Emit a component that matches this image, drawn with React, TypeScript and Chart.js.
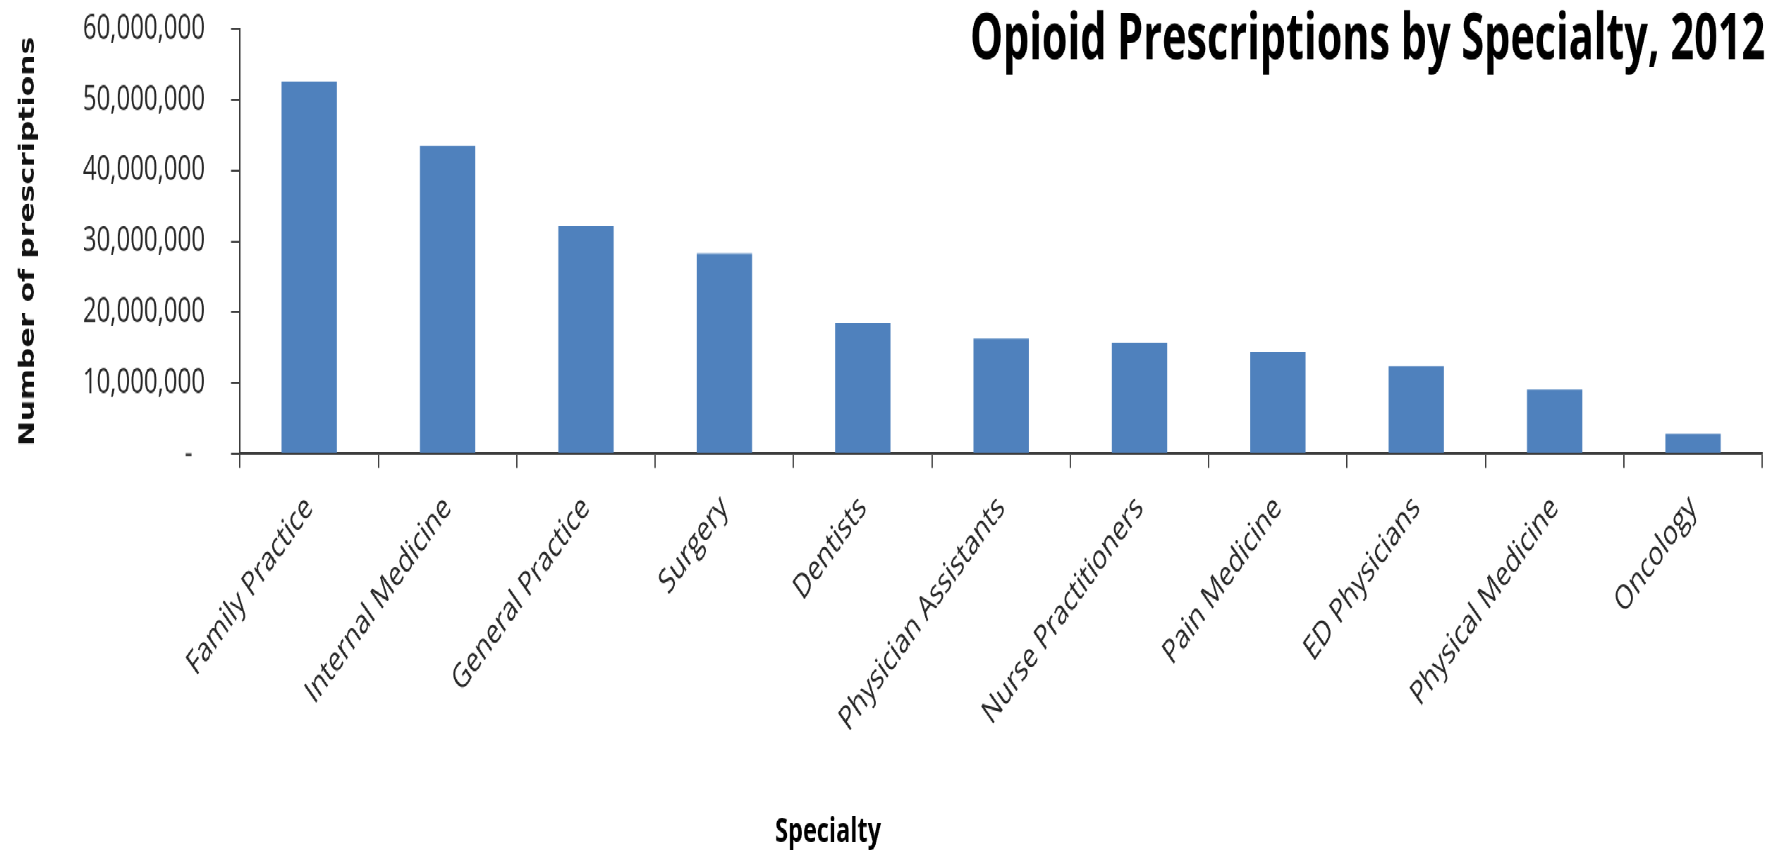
import { useEffect, useRef } from "react";
import { Chart, registerables } from "chart.js";

Chart.register(...registerables);

// Opioid prescriptions written in 2012, by prescriber specialty
const specialties = [
  "Family Practice",
  "Internal Medicine",
  "General Practice",
  "Surgery",
  "Dentists",
  "Physician Assistants",
  "Nurse Practitioners",
  "Pain Medicine",
  "ED Physicians",
  "Physical Medicine",
  "Oncology",
];

const prescriptions = [
  52600000, 43500000, 32200000, 28300000, 18500000, 16300000, 15700000,
  14400000, 12400000, 9100000, 2850000,
];

const yMin = 0;
const yMax = 60000000;
const yStep = 10000000;

const chartTitle = "Opioid Prescriptions by Specialty, 2012";
const xAxisTitle = "Specialty";
const yAxisTitle = "Number of prescriptions";

// The chart is laid out at 1784x600 and shown stretched to the page height.
const CHART_W = 1784;
const CHART_H = 600;
const PAGE_H = 851;
const STRETCH = PAGE_H / CHART_H;

const AXIS_COLOR = "#3c3c3c";
const TEXT_COLOR = "#262626";
const BAR_COLOR = "#4F81BD";

const formatTick = (v: number) =>
  v === 0 ? "-  " : Math.round(v).toLocaleString("en-US");

// Draws the heading (right-aligned over the plot) and the category caption.
const headingsPlugin = {
  id: "headings",
  afterDraw(chart: Chart) {
    const { ctx, chartArea } = chart;
    ctx.save();
    ctx.fillStyle = "#000";
    ctx.font = 'bold 45px "Open Sans", "Liberation Sans", sans-serif';
    ctx.textAlign = "right";
    ctx.textBaseline = "alphabetic";
    const measured = ctx.measureText(chartTitle).width;
    const targetWidth = 795;
    ctx.translate(chartArea.right + 3, 41.5);
    ctx.scale(targetWidth / measured, 1);
    ctx.fillText(chartTitle, 0, 0);
    ctx.restore();

    ctx.save();
    ctx.fillStyle = "#000";
    ctx.font = 'bold 23.5px "Open Sans", "Liberation Sans", sans-serif';
    ctx.textAlign = "left";
    ctx.textBaseline = "alphabetic";
    ctx.fillText(xAxisTitle, chartArea.left + 535, 594);
    ctx.restore();
  },
};

export default function App() {
  const canvasRef = useRef<HTMLCanvasElement | null>(null);

  useEffect(() => {
    const canvas = canvasRef.current;
    if (!canvas) return;

    const chart = new Chart(canvas, {
      type: "bar",
      data: {
        labels: specialties,
        datasets: [
          {
            label: yAxisTitle,
            data: prescriptions,
            backgroundColor: BAR_COLOR,
            borderWidth: 0,
            categoryPercentage: 1,
            barPercentage: 0.4,
          },
        ],
      },
      options: {
        responsive: false,
        animation: false,
        devicePixelRatio: STRETCH,
        layout: { padding: { top: 20.5, right: 22, bottom: 0, left: 0 } },
        plugins: {
          legend: { display: false },
          tooltip: { enabled: false },
          title: { display: false },
        },
        scales: {
          x: {
            offset: true,
            grid: {
              display: true,
              offset: true,
              drawOnChartArea: false,
              drawTicks: true,
              tickLength: 10,
              color: AXIS_COLOR,
              lineWidth: 1.3,
            },
            border: { display: true, color: AXIS_COLOR, width: 2 },
            ticks: {
              autoSkip: false,
              minRotation: 45,
              maxRotation: 45,
              padding: 14,
              color: TEXT_COLOR,
              font: { family: '"Open Sans", "Liberation Sans", sans-serif', size: 24 },
            },
            afterFit: (scale: any) => {
              scale.height = 280;
            },
          },
          y: {
            min: yMin,
            max: yMax,
            grid: {
              display: true,
              drawOnChartArea: false,
              drawTicks: true,
              tickLength: 9,
              color: AXIS_COLOR,
              lineWidth: 1.3,
            },
            border: { display: true, color: AXIS_COLOR, width: 1.5 },
            ticks: {
              stepSize: yStep,
              padding: 26,
              color: TEXT_COLOR,
              font: { family: '"Open Sans", "Liberation Sans", sans-serif', size: 24 },
              callback: (value: any) => formatTick(Number(value)),
            },
            title: {
              display: true,
              text: yAxisTitle,
              color: "#111",
              padding: { top: 16, bottom: 0 },
              font: { family: '"DejaVu Sans", Verdana, sans-serif', size: 21, weight: "bold" },
            },
            afterFit: (scale: any) => {
              scale.width = 240;
              // only half a label height is needed above and below the axis
              scale.paddingTop = 14;
              scale.paddingBottom = 14;
            },
          },
        },
      },
      plugins: [headingsPlugin],
    });

    return () => chart.destroy();
  }, []);

  return (
    <div
      style={{
        position: "absolute",
        left: 0,
        top: 0,
        width: CHART_W,
        height: CHART_H,
        transform: `scaleY(${STRETCH})`,
        transformOrigin: "0 0",
        background: "#fff",
      }}
    >
      <canvas
        ref={canvasRef}
        width={CHART_W}
        height={CHART_H}
        style={{ width: CHART_W, height: CHART_H, display: "block" }}
      />
    </div>
  );
}
